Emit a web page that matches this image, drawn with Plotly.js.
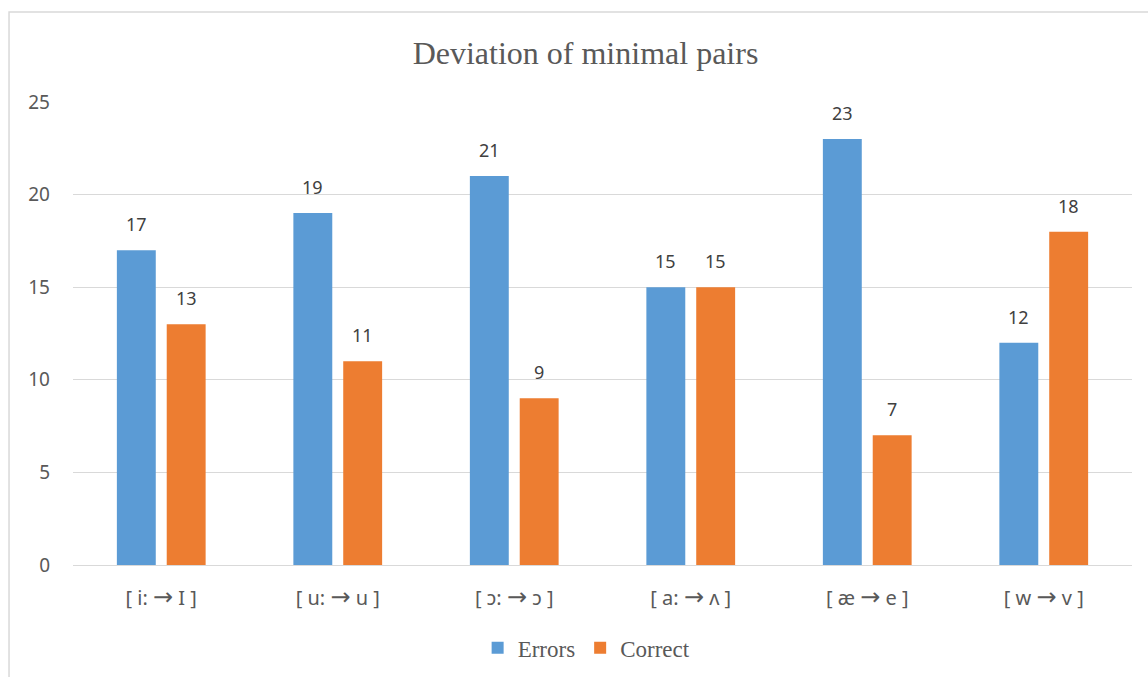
<!DOCTYPE html>
<html>
<head>
<meta charset="utf-8">
<script src="https://cdn.plot.ly/plotly-3.0.1.min.js"></script>
<style>html,body{margin:0;padding:0;background:#fff;} #chart{width:1148px;height:677px;}</style>
</head>
<body>
<div id="chart"></div>
<script>
const categories = ["[ i: \u2192 I ]", "[ u: \u2192 u ]", "[ \u0254: \u2192 \u0254 ]", "[ a: \u2192 \u028C ]", "[ \u00E6 \u2192 e ]", "[ w \u2192 v ]"];
const errors = [17, 19, 21, 15, 23, 12];
const correct = [13, 11, 9, 15, 7, 18];
const yTicks = [0, 5, 10, 15, 20, 25];

const sans = "Noto Sans, Open Sans, sans-serif";
const serif = "Liberation Serif, Times New Roman, serif";
const labelFont = {family: sans, size: 18, color: "#404040"};

// tick labels with a larger arrow glyph
const tickText = categories.map(c => c.replace("\u2192", '<span style="font-family:DejaVu Sans;font-size:24px">\u2192</span>'));

const traces = [
  {type: "bar", name: "Errors", x: categories, y: errors, marker: {color: "#5B9BD5"}},
  {type: "bar", name: "Correct", x: categories, y: correct, marker: {color: "#ED7D31"}}
];

const annotations = [];
[[errors, -25], [correct, 25]].forEach(([vals, dx]) => {
  vals.forEach((v, i) => {
    annotations.push({x: categories[i], y: v, xref: "x", yref: "y", text: String(v), showarrow: false,
      xanchor: "center", yanchor: "bottom", xshift: dx, yshift: 12, font: labelFont});
  });
});

const layout = {
  width: 1148, height: 677,
  margin: {l: 73, r: 16, t: 102, b: 112},
  paper_bgcolor: "#fff", plot_bgcolor: "#fff",
  title: {text: "Deviation of minimal pairs", font: {family: serif, size: 32, color: "#595959"},
          x: 0.51, xanchor: "center", y: 0.922, yanchor: "middle"},
  barmode: "group", bargap: 0.435, bargroupgap: 0.22,
  xaxis: {type: "category", tickvals: categories, ticktext: tickText, showgrid: false, showline: true, linecolor: "#D9D9D9", linewidth: 1,
          ticks: "", tickfont: {family: sans, size: 20, color: "#595959"}, ticklabelstandoff: 15},
  yaxis: {range: [0, 25], tickvals: yTicks, ticktext: yTicks.map(String), showgrid: true, gridcolor: "#D9D9D9", gridwidth: 1,
          zeroline: false, showline: false, ticks: "",
          tickfont: {family: sans, size: 19, color: "#595959"}, ticklabelstandoff: 22},
  annotations: annotations,
  showlegend: true,
  legend: {orientation: "h", xref: "container", yref: "container", x: 0.511, xanchor: "center", y: 0.043, yanchor: "middle",
           font: {family: serif, size: 23, color: "#595959"}, itemwidth: 30, traceorder: "normal"},
  shapes: [{type: "rect", xref: "paper", yref: "paper", x0: -0.0604, x1: 1.05, y0: -0.5, y1: 1.1945,
            line: {color: "#D9D9D9", width: 1.5}, fillcolor: "rgba(0,0,0,0)", layer: "below"}]
};

Plotly.newPlot("chart", traces, layout, {displayModeBar: false, staticPlot: true});
</script>
</body>
</html>
